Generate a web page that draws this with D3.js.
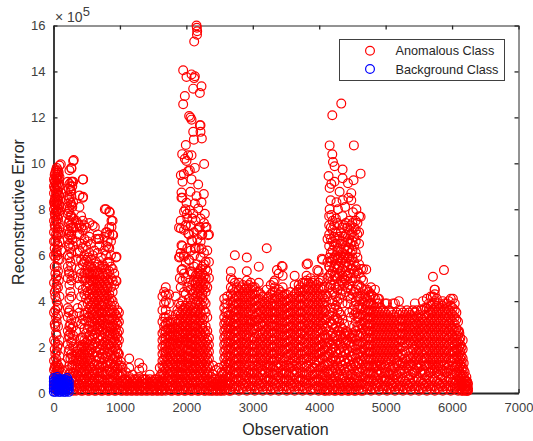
<!DOCTYPE html>
<html>
  <head>
    <title>Reconstructive Error</title>
    <script src="https://d3js.org/d3.v7.min.js"></script>
    <style>
      html, body { margin: 0; padding: 0; background: #fff; }
      text { font-family: "Liberation Sans", Arial, sans-serif; fill: #262626; }
    </style>
  </head>
  <body>
    <div id="chart"></div>

    <script>
      // values, each row is [observation, [errors in units of 1e5]]
      const earlyBurst = [
        [8,[.2,.6,1,1.4,2.3,3.5,4.8,6,6.6,7,7.5,8,8.3,8.7,9,9.3]],
        [18,[.4,1.1,1.9,3,4.4,5.5,6.3,7.3,7.8,8.2,8.4,8.9,9.2,9.5]],
        [28,[.3,.8,1.2,1.7,2.2,2.9,3.6,4.2,5.2,5.9,6.6,7.2,7.7,8.1,8.5,8.9,9.2,9.6]],
        [38,[.2,.7,1.5,2.6,3.3,4.5,5,6.1,6.9,7.5,7.9,8.3,8.7,9.1,9.4,9.7]],
        [48,[.1,.5,1,1.3,1.8,2.5,3.1,4,4.7,5.5,6.2,6.8,7.4,7.9,8.3,8.6,9,9.4,9.8]],
        [58,[.3,.8,1.1,2,3.7,5.1,6,6.5,7.1,7.7,8.2,8.5,8.8,9.3,9.6]],
        [68,[.4,.9,1.2,2.1,2.9,3.4,3.8,4.6,5.3,5.8,6.4,7,7.6,8,8.4,8.8,9.1,9.5,9.7]],
        [78,[.6,1,4.9,6.9,7.4,7.9,8.2,8.6,9,9.3,9.6]],
        [90,[.2,.7,1.1,1.6,2.3,4.2,5.8,6.6,7.2,7.8,8.2,8.6,9,9.4,9.9]],
        [115,[.5,.9,1.3,6.2,7,8.1,8.7]],
        [215,[.5,1,1.5,2.1,2.7,3.3,3.7,5,5.5,6,6.7,7.1,7.8,8.1,8.6,9.2]],
        [228,[.2,.7,1.8,2.5,3.5,5.3,6.4,6.9,7.4,7.9,8.4,8.9]],
        [240,[.3,.8,1.2,1.9,2.4,2.9,3.6,4.1,4.7,5.2,5.9,6.5,7,7.5,8,8.5,9.1,9.7]],
        [254,[.4,.9,1.5,2.6,3,4.4,5.7,6.3,6.8,7.3,7.7,8.3,8.8,9]],
        [268,[.2,.6,1.1,1.7,2.2,2.8,3.2,4.2,4.9,5.5,6.1,6.9,7.2,7.7,8.2,8.8,9.2,9.8]],
        [283,[.3,.7,1.2,1.6,2.3,5.1,6.7,7.4,8.1,9]],
        [296,[.1,.5,.9,1.4,2,2.5,2.9,3.4,6.4,7.2,7.6,8.3,9.2,10.1]]
      ];
      const secondBurst = [
        [340,[.1,.3,.6,.9,1.2,1.5,1.8,2.7,3.1,5.8,6.6,7.2,7.5]],
        [365,[.2,.5,.8,1.1,1.4,1.7,2,3.7,5,6.1,6.9,7.4]],
        [390,[.2,.4,.7,1,1.3,1.6,1.9,2.3,3.5,4.7,5.4,6.2,6.9,7.3,8.1,8.6]],
        [415,[.1,.3,.6,.9,1.1,1.4,1.7,2,2.4,3,4.2,5.2,5.8,6.5,7.2,7.7]],
        [440,[.1,.4,.6,.9,1.2,1.5,1.8,2.1,2.4,3.2,3.8,4.5,5,5.6,6.3,7.1,7.5,8.5,9.3]],
        [465,[.3,.6,1,1.3,1.7,2,2.3,2.8,3.4,4.3,4.9,5.2,5.7,6,6.7,7.3]],
        [490,[.2,.5,.8,1.1,1.3,1.6,1.9,2.2,2.6,3.1,3.5,4.1,4.6,5,5.4,5.8,6.4,7.2]],
        [515,[.1,.4,.7,1,1.4,1.7,2,2.3,2.8,3.3,3.9,4.4,4.8,5.2,5.5,5.9,6.6]],
        [540,[.1,.3,.6,.9,1.2,1.5,1.8,2.1,2.5,2.9,3.3,3.7,4,4.3,4.7,5,5.3,5.6,6.1,6.8,7.4]],
        [565,[.2,.4,.7,1.1,1.4,1.9,2.3,2.7,3.1,3.5,3.8,4.1,4.5,4.9,5.2,5.5,5.8,6.5]],
        [590,[.2,.5,.8,1,1.3,1.7,2,2.4,2.7,3.1,3.4,3.6,3.9,4.2,4.5,4.8,5.1,5.4,6,7.3]],
        [615,[.1,.3,.6,.9,1.2,1.6,2.1,2.5,2.9,3.3,3.7,4,4.3,4.6,4.9,5.2,5.5,6.2]],
        [640,[.1,.4,.7,1,1.4,1.8,2.2,2.6,2.9,3.2,3.5,3.8,4.1,4.4,4.7,5,5.3,5.7,6.7]],
        [665,[.3,.6,.9,1.2,1.6,2,2.4,2.8,3.1,3.4,3.7,4,4.3,4.6,4.9,5.2,5.6,6.1,6.9]],
        [690,[.2,.5,.7,1.1,1.5,1.9,2.3,2.7,3,3.3,3.6,3.9,4.2,4.5,4.8,5.1,5.5,6.4,6.7]],
        [715,[.1,.3,.6,.9,1.2,1.7,2.1,2.5,2.9,3.2,3.5,3.8,4.1,4.4,4.7,5,5.4,5.9]],
        [740,[.1,.3,.6,.9,1.3,1.7,2.1,2.4,2.8,3.1,3.5,3.8,4,4.3,4.6,4.9,5.2,5.6]],
        [765,[.2,.5,.8,1.1,1.5,1.9,2.2,2.6,3,3.3,3.6,3.9,4.2,4.5,4.8,5.1,5.5,6.2,6.8]],
        [790,[.2,.4,.8,1.2,1.6,2,2.3,2.7,3,3.4,3.7,4.1,4.4,4.7,5,5.4,6,6.4,7,8]],
        [815,[.1,.3,.6,.9,1.3,1.7,2.1,2.5,2.9,3.2,3.5,3.9,4.2,4.6,4.9,5.2,5.7,6.6]],
        [840,[.1,.3,.6,1,1.4,1.8,2.1,2.5,2.8,3.2,3.6,4,4.3,4.8,5.3,5.7,6.3,6.9,7.2,7.9]],
        [865,[.2,.5,.9,1.3,1.6,2,2.3,2.6,2.9,3.2,3.5,3.8,4.1,4.6,5,5.5,6,6.6]],
        [890,[.2,.5,.8,1.1,1.5,1.8,2.2,2.4,2.7,3,3.3,3.6,4,4.4,4.9,5.4,6.9,7.5]],
        [915,[.1,.3,.6,.9,1.2,1.6,2,2.3,2.6,2.9,3.2,3.5,3.8,4.7,5.2]],
        [940,[.1,.4,.7,1,1.3,1.6,1.9,2.2,2.5,2.8,3.1,3.4,4.9,5.9]],
        [962,[.2,.5,.8,1.1,1.4,1.8,2.1,2.4,2.6,3,3.3,3.6]],
        [985,[.2,.4,.8,1.2,1.7,2.3,2.7,3.1,3.5]]
      ];
      const lowBand = [
        [1015,[.1,.3,.5,.7,.9,1.2]],[1040,[.1,.3,.5,.8,1.1]],[1065,[.2,.4,.6]],[1090,[.1,.4,.6,.9]],
        [1115,[.1,.3,.5]],[1140,[.2,.4,.7,1.1,1.5]],[1165,[.1,.3,.6]],[1190,[.1,.3,.5,.8]],
        [1215,[.2,.4,.6]],[1240,[.1,.4,.6]],[1265,[.1,.3,.5]],[1290,[.2,.4,.7,1,1.3]],
        [1315,[.1,.3,.5]],[1340,[.1,.3,.6,1.1]],[1365,[.2,.4,.6]],[1390,[.1,.4,.6]],
        [1420,[.1,.3,.5]],[1450,[.2,.4,.6,.8]],[1475,[.1,.3,.5]],[1500,[.1,.3,.5]],
        [1525,[.2,.4,.6]],[1550,[.1,.4,.6]],[1575,[.1,.3,.5]],[1600,[.2,.4,.7,1.1]],[1620,[.1,.3,.5,.8]],
        [2375,[.1,.3,.5,.7]],[2400,[.1,.3,.5,.8,1.2]],[2422,[.2,.4,.6]],[2445,[.1,.4,.6,1]],
        [2468,[.1,.3,.5]],[2490,[.2,.4,.6,1.1]],[2510,[.1,.3,.5]],[2530,[.1,.3,.5,.9]],[2550,[.2,.4,.6,.8]],
        [6160,[.1,.3,.5,.8,1.1,1.5,1.9,2.3]],[6175,[.2,.4,.7,1,1.3]],[6190,[.1,.2,.4,.6,.9]],[6203,[.2,.3,.5]],[6215,[.1,.3,.5,.7]],[6228,[.1,.3,.5]],[6240,[.1,.2,.4]]
      ];
      const thirdBurst = [
        [1640,[.1,.3,.6,.9,1.2,1.4,1.7,2,2.3,2.6,3.1,3.6,4.2]],
        [1665,[.2,.5,.8,1.1,1.5,1.8,2.1,2.4,2.7,2.9,3.3,3.9,4.4]],
        [1690,[.1,.4,.7,1,1.3,1.6,1.8,2.1,2.4,2.7,3,3.3,3.6,4,4.3,4.6]],
        [1715,[.3,.6,.9,1.2,1.5,1.9,2.2,2.5,2.8,3.1]],
        [1740,[.2,.5,.8,1.1,1.4,1.7,2,2.2,2.5,2.8,3.1,3.4,3.9,4.3]],
        [1765,[.1,.3,.6,.9,1.3,1.6,1.9,2.1,2.4,2.7,3]],
        [1790,[.1,.3,.6,.9,1.2,1.5,1.8,2.1,2.3,2.6,2.9,3.2]],
        [1815,[.2,.5,.8,1.1,1.4,1.7,2,2.3,2.5,2.8]],
        [1840,[.2,.4,.7,1,1.3,1.6,1.9,2.2,2.5,2.8,3.1,3.4,4.2]],
        [1865,[.1,.3,.6,.9,1.2,1.5,1.8,2.1,2.4,2.7,3,3.6]],
        [1890,[.1,.4,.6,.9,1.2,1.5,1.8,2,2.3,2.6,2.9,3.2,3.5,3.9,5.9,7.2]],
        [1915,[.3,.5,.8,1.1,1.3,1.6,2.1,2.5,2.8,3.1,3.4,3.8,4.6,6.1,7.5]],
        [1940,[.2,.5,.8,1.1,1.4,1.7,1.9,2.2,2.4,2.7,3,3.3,3.6,4,4.9,5.4,6.4,8.5]],
        [1965,[.1,.4,.7,1,1.2,1.6,2,2.3,2.6,2.9,3.1,3.4,3.7,4.4,5.2,6,7.1,7.9]],
        [1990,[.1,.3,.6,.9,1.2,1.5,1.8,2.1,2.3,2.6,2.9,3.2,3.5,3.8,4.3,5,5.7,7.3]],
        [2015,[.2,.5,.8,1.1,1.3,1.6,1.9,2.2,2.4,2.7,3,3.3,3.6,3.9,4.6,6.3,7.6]],
        [2040,[.2,.4,.7,1,1.3,1.6,1.9,2.2,2.5,2.8,3.1,3.4,3.7,4.1,4.8,5.8,6.9]],
        [2065,[.1,.3,.6,.9,1.2,1.5,1.8,2.1,2.4,2.6,2.9,3.2,3.5,3.8,4.5,5.3,6.2,7.3]],
        [2090,[.1,.4,.7,1,1.2,1.5,1.8,2.1,2.4,2.7,3,3.3,3.6,3.9,4.3,4.7,5.2,6.6,7.6]],
        [2115,[.2,.5,.8,1.1,1.4,1.7,2,2.3,2.6,2.9,3.2,3.5,3.7,4.1,4.4,4.9,5.5,6,7]],
        [2140,[.2,.5,.8,1.1,1.4,1.7,2,2.3,2.6,2.9,3.2,3.5,3.9,4.2,4.5,4.8,5.1,6.3,7.5]],
        [2165,[.1,.4,.7,1,1.3,1.6,1.9,2.2,2.5,2.8,3,3.3,3.6,4,4.3,4.6,4.9,5.2,5.6,6.7,7.1]],
        [2190,[.1,.3,.6,.9,1.2,1.5,1.8,2.1,2.4,2.7,3.1,3.4,3.7,4,4.4,4.7,5,5.3,6.3,7.2]],
        [2215,[.2,.5,.8,1.1,1.4,1.7,2,2.3,2.6,2.9,3.2,3.5,3.9,4.2,4.5,4.8,5.1,5.4,5.9,6.6,7.6]],
        [2240,[.2,.4,.7,1,1.3,1.6,1.9,2.2,2.5,2.8,3,3.3,3.8,4.1,4.3,4.6,4.9,5.2,5.5,6.9]],
        [2265,[.1,.3,.6,.9,1.2,1.5,1.8,2.1,2.4,2.7,3.2,3.6,4,4.5,4.8,5.1,5.6,6.1,7.4]],
        [2290,[.1,.4,.7,1,1.3,1.6,1.9,2.2,2.6,2.9,3.5,3.9,4.4,4.7,5,5.4,5.7,7.2]],
        [2315,[.2,.5,.8,1.1,1.4,1.7,2,2.3,2.7,3.3,4.6,5.3,6.2]],
        [2340,[.1,.3,.6,.9,1.2,1.5,1.8,2.1,2.4,5,5.7,6.9]]
      ];
      const columnBurst = [
        [2570,[.1,.3,.6,.9,1.2,1.5,1.8,2.1,2.4,2.7,3,3.3,3.7,4.1]],
        [2590,[.2,.4,.7,1,1.3,1.6,1.9,2.2,2.5,2.8,3.1,3.5,3.9]],
        [2615,[.2,.5,.8,1.1,1.4,1.7,2,2.3,2.6,2.9,3.2,3.5,3.9,4.2]],
        [2642,[.1,.4,.7,1,1.3,1.6,1.9,2.2,2.5,2.8,3.1,3.4]]
      ];
      const plateauA = [
        [2670,[.1,.4,.7,1,1.3,1.6,1.9,2.2,2.5,2.8,3.1,3.4,3.7,4,4.3,4.6,5,5.3]],
        [2700,[.3,.6,.9,1.2,1.5,1.8,2.1,2.4,2.7,3,3.3,3.6,3.9,4.2,4.5,4.9]],
        [2730,[.2,.5,.8,1.1,1.4,1.7,2,2.3,2.6,2.9,3.2,3.5,3.8,4.1,4.4,4.8,6]],
        [2760,[.3,.6,.9,1.2,1.5,1.8,2.1,2.4,2.7,3,3.3,3.6,3.9,4.2,4.6]],
        [2790,[.1,.3,.6,.9,1.2,1.5,1.8,2.1,2.4,2.7,3,3.3,3.6,3.9,4.2,4.5,4.8]],
        [2820,[.2,.5,.7,1,1.3,1.6,1.9,2.2,2.5,2.8,3.1,3.4,3.7,4,4.3,4.6]],
        [2850,[.2,.4,.8,1.1,1.4,1.7,2,2.3,2.6,2.9,3.2,3.5,3.8,4.1,4.4,4.7]],
        [2880,[.3,.6,.9,1.2,1.5,1.8,2.1,2.4,2.7,3,3.3,3.6,3.9,4.2,4.5]],
        [2910,[.1,.4,.7,1,1.3,1.6,1.9,2.2,2.5,2.8,3.1,3.4,3.7,4,4.3,4.6,4.9,5.3,5.9]],
        [2940,[.3,.6,.9,1.2,1.5,1.8,2.1,2.4,2.6,2.9,3.2,3.5,3.8,4.1,4.4,4.7]],
        [2970,[.2,.5,.8,1,1.4,1.7,2,2.3,2.7,3,3.2,3.6,3.9,4.2,4.5,4.8]],
        [3000,[.3,.6,.9,1.2,1.5,1.8,2.1,2.4,2.8,3.1,3.4,3.7,4,4.3,4.6]],
        [3030,[.1,.3,.6,.9,1.2,1.5,1.8,2.1,2.4,2.8,3.1,3.3,3.7,4,4.3,4.6]],
        [3060,[.2,.5,.8,1,1.4,1.7,2,2.3,2.6,2.9,3.2,3.5,3.8,4.1,4.4]],
        [3090,[.2,.4,.7,1.1,1.3,1.6,1.9,2.2,2.5,2.9,3.2,3.5,3.8,4.1,4.4,4.8,5.5]],
        [3120,[.3,.6,.9,1.2,1.5,1.8,2.1,2.4,2.7,3,3.3,3.6,3.9,4.3]],
        [3150,[.1,.4,.8,1,1.4,1.7,2,2.3,2.6,2.9,3.1,3.4,3.7,4,4.2]],
        [3180,[.3,.6,.9,1.2,1.5,1.8,2.1,2.4,2.7,3,3.3,3.6,3.9]],
        [3210,[.2,.5,.7,1.1,1.3,1.6,1.9,2.2,2.5,2.8,3.2,3.5,3.8,4.1,4.5,6.3]],
        [3240,[.3,.6,.9,1.2,1.4,1.7,2,2.3,2.6,2.9,3.1,3.4,3.7,4,4.2]],
        [3270,[.1,.3,.6,.9,1.2,1.5,1.8,2.1,2.4,2.7,3,3.3,3.6,3.9,4.3,4.7]],
        [3300,[.2,.5,.8,1.1,1.4,1.7,2,2.3,2.6,2.9,3.2,3.5,3.8,4.1,4.4]],
        [3330,[.2,.4,.8,1,1.4,1.7,2,2.3,2.6,2.9,3.2,3.5,3.8,4.1,4.4,4.6,4.9]],
        [3360,[.3,.6,.9,1.2,1.5,1.8,2.1,2.4,2.7,3,3.3,3.6,3.9,4.2]],
        [3390,[.1,.4,.7,1.1,1.3,1.6,1.9,2.2,2.5,2.8,3.1,3.4,3.7,4,4.3,4.5,5.2]],
        [3420,[.3,.6,.9,1.2,1.5,1.7,2,2.3,2.6,2.9,3.2,3.5,3.8,4.1,4.4]],
        [3450,[.2,.5,.8,1,1.4,1.8,2.1,2.4,2.7,3,3.3,3.6,3.9,4.2,4.6,5.1,5.5]],
        [3480,[.3,.6,.9,1.2,1.5,1.9,2.2,2.5,2.8,3.1,3.4,3.7,4,4.3]],
        [3510,[.1,.3,.6,.9,1.2,1.6,1.9,2.2,2.5,2.8,3.1,3.4,3.7,4,4.3]],
        [3540,[.2,.5,.8,1.1,1.4,1.7,2,2.3,2.6,2.9,3.2,3.5,3.8,4.1]],
        [3570,[.2,.4,.7,1.1,1.3,1.7,2,2.3,2.6,2.9,3.2,3.5,3.8,4.1,4.4]],
        [3600,[.3,.6,.9,1.2,1.5,1.8,2.1,2.4,2.7,3,3.3,3.6,3.9,4.2]],
        [3630,[.1,.4,.8,1,1.4,1.6,1.9,2.2,2.5,2.8,3.1,3.4,3.7,4,4.3,4.7,5.1]],
        [3660,[.3,.6,.9,1.2,1.3,1.7,2,2.3,2.6,2.9,3.2,3.5,3.8,4.1,4.4]],
        [3690,[.2,.5,.7,1.1,1.5,1.8,2.1,2.4,2.7,3,3.3,3.6,3.9,4.2,4.5,4.7]],
        [3720,[.3,.6,.9,1.2,1.4,1.7,2,2.3,2.6,2.9,3.2,3.5,3.8,4.1,4.4,4.6]],
        [3750,[.1,.3,.6,.9,1.3,1.7,2,2.3,2.6,2.9,3.2,3.5,3.8,4.1,4.4,4.8]],
        [3780,[.2,.5,.8,1.1,1.5,1.8,2.2,2.5,2.7,3,3.3,3.6,3.9,4.2,4.5,4.8]],
        [3810,[.2,.4,.8,1.2,1.5,1.8,2.1,2.4,2.8,3.1,3.4,3.7,4,4.3,4.6,4.9,5.1,5.6]],
        [3840,[.3,.6,.9,1.3,1.6,1.9,2.2,2.5,2.7,3,3.3,3.6,3.9,4.2,4.5,4.8]],
        [3870,[.1,.4,.7,1,1.4,1.7,2,2.3,2.6,2.9,3.2,3.5,3.8,4.1,4.4,4.7,5]],
        [3900,[.2,.5,.8,1.1,1.5,1.8,2.1,2.4,2.7,3,3.3,3.6,3.9,4.2,4.5,4.8]],
        [3930,[.2,.5,.8,1.1,1.3,1.6,1.9,2.2,2.5,2.8,3.1,3.4,3.7,4,4.3,4.6,4.9]],
        [3960,[.3,.6,.9,1.2,1.4,1.7,2,2.3,2.6,2.9,3.2,3.5,3.8,4.1,4.4,4.7]],
        [3990,[.1,.3,.6,1,1.4,1.7,2,2.3,2.7,3,3.3,3.6,3.9,4.2,4.5,4.8,5.3]],
        [4020,[.2,.5,.8,1.1,1.5,1.8,2.1,2.4,2.8,3.1,3.4,3.7,4,4.3,4.6,4.9]],
        [4050,[.2,.4,.8,1.1,1.5,1.8,2.1,2.4,2.7,3,3.3,3.6,3.9,4.2,4.5,5,5.8]],
        [4075,[.1,.3,.6,.9,1.2,1.6,1.9,2.2,2.5,2.9,3.2,3.5,3.8,4.1,4.6]],
        [4100,[.1,.4,.7,1,1.3,1.6,2,2.4,2.8,3.2,3.6,4,4.3]]
      ];
      const fourthBurst = [
        [4125,[.2,.5,.9,1.2,1.6,2,2.4,2.9,3.3,4.2,5,5.7,6.7]],
        [4150,[.1,.4,.8,1.3,1.7,2.2,2.7,3.4,4.6,5.1,5.5,5.9,6.4,6.9,7.3,7.7]],
        [4175,[.3,.6,1,1.4,1.8,2.1,2.5,3.1,3.7,4.7,5.2,5.7,6.1,6.7,7.2]],
        [4200,[.2,.5,.9,1.2,1.5,1.9,2.3,2.6,3,3.5,4,4.4,4.9,5.3,5.8,6.2,6.6,7.1,7.5]],
        [4225,[.1,.4,.7,1.1,1.6,2,2.4,2.8,3.2,3.7,4.3,4.7,5.1,5.5,5.9,6.4,6.8,7.3]],
        [4250,[.1,.3,.7,1,1.4,1.8,2.1,2.5,2.9,3.3,3.8,4.2,4.6,5.1,5.6,6,6.5,7,7.6]],
        [4275,[.2,.5,.9,1.2,1.7,2.3,2.7,3.2,3.6,4,4.5,5,5.4,5.8,6.2,6.7,7.4]],
        [4300,[.2,.4,.8,1.1,1.5,1.9,2.2,2.7,3.1,3.5,4.1,4.7,5.2,5.5,5.9,6.3,6.8,7.3]],
        [4325,[.1,.3,.6,1,1.4,1.8,2.1,2.5,2.9,3.4,4.3,4.9,5.3,5.7,6,6.5,7]],
        [4350,[.1,.4,.7,1.2,1.6,2,2.4,2.8,3.2,3.9,4.5,4.8,5.1,5.4,5.8,6.1,6.6,7.2,7.7]],
        [4375,[.3,.6,1,1.4,1.8,2.3,2.6,3,4.7,5,5.5,5.9,6.3,6.8,7.3]],
        [4400,[.2,.5,.9,1.3,1.7,2.2,2.5,2.7,4.4,4.9,5.3,5.7,6,6.4,6.9,7.4]],
        [4425,[.1,.4,.8,1.1,1.5,1.9,2.3,2.6,3.9,4.6,5.1,5.5,5.9,6.2,6.6,7.2]],
        [4450,[.1,.3,.6,1,1.4,1.8,2.2,2.5,3.5,4.2,4.7,5.2,5.6,5.9,6.3,6.7,7.1,7.5]],
        [4475,[.2,.5,.8,1.2,1.6,2.1,2.4,3.3,4.1,4.5,5,5.4,5.8,6.1,6.5,6.9,7.3]],
        [4500,[.2,.4,.8,1.1,1.6,2,2.4,2.6,3.6,4.3,4.9,5.4,5.9,6.2,6.6,7,7.4]],
        [4525,[.1,.3,.6,1,1.3,1.7,2.1,2.5,2.9,3.4,3.8,4.4,5.2,5.7,6.4,6.8,7.2]],
        [4550,[.1,.4,.7,1.2,1.5,1.9,2.3,2.7,3.1,3.5,4,4.5,5,5.5,6.1,6.6,7.1,7.5]],
        [4575,[.3,.6,.9,1.3,1.7,2.1,2.5,2.9,3.3,3.7,4.2,4.7,5.3,5.9,6.9,7.4]],
        [4600,[.2,.5,.9,1.3,1.7,2.1,2.5,2.9,3.3,3.8,4.2,4.7,5.2,5.6,6.5,7,7.7]],
        [4630,[.1,.4,.7,1.1,1.4,1.8,2.2,2.6,3,3.4,3.7,4.1,4.6,5,5.4]]
      ];
      const plateauB = [
        [4660,[.1,.4,.7,1,1.3,1.6,1.9,2.2,2.5,2.8,3.1,3.4,3.7,4,4.3,4.9,5.4]],
        [4690,[.3,.6,.9,1.2,1.5,1.8,2.1,2.4,2.7,3,3.3,3.6,3.9,4.2,4.5]],
        [4720,[.2,.5,.8,1.1,1.4,1.7,2,2.3,2.6,2.9,3.2,3.5,3.8,4.1,4.5]],
        [4750,[.3,.6,.9,1.2,1.5,1.8,2.1,2.4,2.7,3,3.3,3.6,3.9,4.2,4.4]],
        [4780,[.1,.3,.6,.9,1.2,1.5,1.8,2.1,2.4,2.7,3,3.3,3.6,3.9,4.3,4.6]],
        [4810,[.2,.5,.8,1.1,1.4,1.7,2,2.3,2.6,2.9,3.2,3.5,3.8,4.2]],
        [4840,[.2,.4,.7,1.1,1.3,1.6,1.9,2.2,2.5,2.8,3.1,3.4,3.7,4.1,4.5]],
        [4870,[.3,.6,.9,1.2,1.5,1.8,2.1,2.4,2.7,3,3.3,3.6,3.9]],
        [4900,[.1,.4,.8,1,1.4,1.7,2,2.3,2.6,2.9,3.2,3.5,3.9,4.1]],
        [4930,[.3,.6,.9,1.2,1.3,1.6,1.9,2.2,2.5,2.8,3.1,3.4,3.7]],
        [4960,[.2,.5,.7,1.1,1.5,1.8,2.1,2.4,2.7,3,3.3,3.6]],
        [4990,[.3,.6,.9,1.2,1.4,1.7,2,2.3,2.6,2.9,3.2,3.5,3.9]],
        [5020,[.1,.3,.6,.9,1.3,1.6,1.9,2.2,2.5,2.8,3.1,3.4,3.9]],
        [5050,[.2,.5,.8,1.1,1.5,1.8,2.1,2.4,2.7,3,3.3,3.6]],
        [5080,[.2,.4,.8,1,1.4,1.7,2,2.3,2.6,2.9,3.2,3.5]],
        [5110,[.3,.6,.9,1.2,1.6,1.9,2.2,2.5,2.8,3.1,3.4,3.9]],
        [5140,[.1,.4,.7,1.1,1.5,1.8,2.1,2.4,2.7,3,3.3,3.9]],
        [5170,[.3,.6,.8,1.3,1.4,1.7,2,2.3,2.6,2.9,3.2,3.5]],
        [5200,[.2,.5,.9,1.2,1.6,1.9,2.2,2.5,2.8,3.1,3.4,4]],
        [5230,[.3,.7,1,1.3,1.7,2,2.3,2.6,2.9,3.2,3.6]],
        [5260,[.1,.3,.6,1,1.3,1.7,2,2.3,2.6,2.9,3.2,3.5]],
        [5290,[.2,.5,.9,1.2,1.5,1.8,2.2,2.5,2.8,3.1,3.4]],
        [5320,[.2,.4,.7,1.1,1.4,2.1,2.4,2.7,3,3.3,3.6]],
        [5350,[.3,.6,1,1.3,1.6,2.3,2.6,2.9,3.2,3.5]],
        [5380,[.1,.4,.8,1.2,1.5,1.8,2.2,2.5,2.8,3.1,3.4]],
        [5410,[.3,.6,.9,1.3,1.6,1.9,2.1,2.4,2.7,3,3.3,3.6]],
        [5440,[.2,.5,.9,1,1.4,1.7,2,2.3,2.6,2.9,3.2,3.5,3.9]],
        [5470,[.3,.7,1.1,1.2,1.5,1.8,2.1,2.4,2.7,3,3.3,3.6]],
        [5500,[.1,.3,.6,1.1,1.3,1.6,1.9,2.2,2.5,2.8,3.1,3.4]],
        [5530,[.2,.5,.9,1.2,1.5,1.8,2.1,2.4,2.7,3,3.3,3.6]],
        [5560,[.2,.4,.8,1,1.4,1.7,2,2.3,2.6,2.9,3.2,3.6,4]],
        [5590,[.3,.6,.9,1.2,1.5,1.9,2.2,2.5,2.8,3.1,3.4,3.7]],
        [5620,[.1,.4,.7,1.2,1.5,1.8,2.1,2.4,2.7,3,3.3,3.7,4.1]],
        [5650,[.3,.6,.9,1.3,1.6,1.9,2.2,2.5,2.8,3.1,3.4,3.6,3.9]],
        [5680,[.2,.5,.9,1.1,1.4,1.7,2,2.3,2.6,2.9,3.2,3.5,3.8,4.2]],
        [5710,[.3,.7,1,1.2,1.5,1.8,2.1,2.4,2.7,3,3.3,3.6,3.9,4.2]],
        [5740,[.1,.3,.6,1,1.3,1.6,1.9,2.2,2.5,2.8,3.1,3.4,3.7,4,4.3,4.5]],
        [5770,[.2,.5,.9,1.1,1.4,1.7,2,2.3,2.6,2.9,3.2,3.5,3.8,4.1]],
        [5800,[.2,.4,.8,1.2,1.5,1.8,2.1,2.4,2.7,3,3.3,3.6,3.9]],
        [5830,[.3,.6,1,1.3,1.6,1.9,2.2,2.5,2.8,3.1,3.4,3.7]],
        [5860,[.1,.4,.7,1,1.4,1.7,2,2.3,2.6,2.9,3.2,3.5,3.8,4]],
        [5890,[.3,.6,.9,1.2,1.5,1.8,2.1,2.4,2.7,3,3.3,3.6,3.9]],
        [5920,[.2,.5,.9,1.1,1.3,1.6,1.9,2.2,2.5,2.8,3.1,3.4,3.7,3.9]],
        [5950,[.3,.7,1,1.2,1.5,1.8,2.1,2.4,2.7,3,3.3,3.6,4]],
        [5980,[.1,.3,.6,1,1.4,1.7,2,2.3,2.6,2.9,3.2,3.5,3.8,4.1]],
        [6010,[.2,.5,.8,1.2,1.5,1.8,2.2,2.5,2.8,3.1,3.4,3.7]],
        [6040,[.2,.4,.8,1.1,1.5,1.8,2.1,2.4,2.7,3,3.3,3.6,3.9]],
        [6065,[.3,.6,.9,1.2,1.6,1.9,2.2,2.5,2.8,3.2,3.5]],
        [6090,[.1,.4,.7,1,1.3,1.6,1.9,2.2,2.5,2.7,3.1]],
        [6110,[.3,.6,.9,1.1,1.4,1.7,2,2.3,2.6]],
        [6125,[.2,.5,.8,1.2,1.5,1.8,2.1,2.4]],
        [6143,[.1,.4,.7,1,1.3,1.6,2]]
      ];
      const highPoints = [
        [110,9.96],[305,10.14],[270,9.77],[446,9.3],[285,9.2],[270,8.54],[446,8.54],[772,8],[848,7.86],[873,7.5],
        [622,7.23],[808,7],[898,6.87],[873,7.23],[672,6.72],[948,5.93],[823,6.36],[948,4.87],[973,1.72],[1013,1.36],
        [2153,16],[2158,15.9],[2163,15.75],[2160,15.6],[2118,15.3],[1952,14.05],[2002,13.76],[2078,13.87],[2128,13.79],[2118,13.71],
        [2228,13.35],[2203,13.06],[2103,13.25],[1977,12.93],[1952,12.57],[2042,12.06],[2062,11.99],[2078,11.9],[2203,11.66],[2213,11.66],
        [2103,11.37],[2213,11.37],[2113,11.03],[2233,11.08],[1992,10.8],[1937,10.4],[2027,10.35],[2078,10.35],[1977,10.2],[2002,10.1],
        [2268,9.97],[2128,9.8],[2052,9.7],[2027,9.66],[1917,9.48],[1962,9.53],[2078,9.3],[1942,9.2],[2178,9.08],[1927,8.73],
        [2062,8.76],[2263,8.66],[2153,8.57],[1927,8.5],[2002,8.28],[2128,8.25],[2228,8.3],[1987,8],[2052,7.96],[2178,8.03],
        [2278,7.8],[2103,7.8],[2010,7.8],[1917,7.16],[1992,7.3],[2027,6.94],[2078,6.65],[1927,6.43],[1902,5.93],[1962,5.93],
        [2042,5.78],[1927,5.35],[2078,5.27],[1902,5],[2203,7.23],[2303,7.23],[2228,6.87],[2328,6.87],[2128,6.29],[2228,6.29],
        [4157,10.78],[4522,10.78],[4332,12.6],[4197,12.09],[4197,10.39],[4207,10.06],[4232,9.87],[4352,9.73],[4623,9.55],[4141,9.45],
        [4352,9.35],[4517,9.26],[4182,9.1],[4433,9.13],[4157,8.93],[4307,8.76],[4483,8.7],[4172,8.39],[4483,8.39],[4352,8.39],
        [4157,8],[4623,7.67],[4508,7.87],[4282,8],[4182,7.75],[4260,8.3],[4390,8.1],[4230,9.2],[4440,8.5],[4560,8],
        [5712,5.06],[5878,5.35],[5737,4.5],[6013,4.1],[4884,4.1],[4708,5.38],[6104,2.7],[3438,5.53],[3363,5.35],[3830,5.64],
        [4040,5.85],[4156,5.49],[3970,5.35],[3313,4.81]
      ];
      const backgroundColumns = [
        [5,[.05,.2,.35,.5,.65]],[30,[.05,.15,.3,.45,.6]],[55,[.1,.25,.4,.55,.7]],[80,[.05,.2,.35,.5,.6]],
        [105,[.05,.15,.3,.45,.6]],[130,[.1,.25,.4,.5]],[155,[.05,.2,.35,.5,.6]],[180,[.05,.15,.3,.45,.55]],
        [205,[.1,.25,.4,.55,.65]],[230,[.05,.2,.35,.5]]
      ];

      const xTicks = [0, 1000, 2000, 3000, 4000, 5000, 6000, 7000];
      const yTicks = [0, 2, 4, 6, 8, 10, 12, 14, 16];
      const legendLabels = ["Anomalous Class", "Background Class"];
      const legendColors = ["#ff0000", "#0000ff"];

      const toPoints = rows => rows.flatMap(([obs, values]) => values.map(v => [obs, v]));
      const anomalous = [earlyBurst, secondBurst, lowBand, thirdBurst, columnBurst, plateauA, fourthBurst, plateauB]
        .flatMap(toPoints)
        .concat(highPoints);
      const background = toPoints(backgroundColumns);

      const width = 533, height = 441;
      const plotLeft = 53.5, plotRight = 518.5, plotTop = 25.5, plotBottom = 393;
      const ringRadius = 4.4, ringWidth = 1.2;

      const x = d3.scaleLinear().domain([0, 7000]).range([plotLeft, plotRight]);
      const y = d3.scaleLinear().domain([0, 16]).range([plotBottom, plotTop]);

      const svg = d3.select("#chart").append("svg")
        .attr("width", width)
        .attr("height", height)
        .style("display", "block");

      // axes, ticks point inward like matlab's box on
      function styleAxis(g, weight) {
        g.select(".domain").attr("stroke", "#262626").attr("stroke-width", weight);
        g.selectAll(".tick line").attr("stroke", "#262626").attr("stroke-width", 1.3);
        g.selectAll(".tick text").style("font-size", "13px").style("fill", "#404040")
          .style("font-family", '"Liberation Sans", Arial, sans-serif');
      }

      svg.append("g").attr("transform", `translate(0,${plotBottom})`)
        .call(d3.axisBottom(x).tickValues(xTicks).tickFormat(d3.format("d")).tickSizeInner(-4).tickSizeOuter(0).tickPadding(10))
        .call(styleAxis, 1.8);
      svg.append("g").attr("transform", `translate(${plotLeft},0)`)
        .call(d3.axisLeft(y).tickValues(yTicks).tickSizeInner(-4).tickSizeOuter(0).tickPadding(8))
        .call(styleAxis, 1.8);
      svg.append("g").attr("transform", `translate(0,${plotTop})`)
        .call(d3.axisTop(x).tickValues(xTicks).tickSizeInner(-4).tickSizeOuter(0).tickFormat(""))
        .call(styleAxis, 1);
      svg.append("g").attr("transform", `translate(${plotRight},0)`)
        .call(d3.axisRight(y).tickValues(yTicks).tickSizeInner(-4).tickSizeOuter(0).tickFormat(""))
        .call(styleAxis, 1);

      // points
      svg.append("g").selectAll("circle")
        .data(anomalous)
        .enter()
        .append("circle")
        .attr("cx", d => x(d[0]))
        .attr("cy", d => y(d[1]))
        .attr("r", ringRadius)
        .attr("fill", "none")
        .attr("stroke", legendColors[0])
        .attr("stroke-width", ringWidth);

      svg.append("g").selectAll("circle")
        .data(background)
        .enter()
        .append("circle")
        .attr("cx", d => x(d[0]))
        .attr("cy", d => y(d[1]))
        .attr("r", ringRadius)
        .attr("fill", "none")
        .attr("stroke", legendColors[1])
        .attr("stroke-width", ringWidth);

      // labels
      svg.append("text")
        .attr("x", 285.5)
        .attr("y", 435)
        .attr("text-anchor", "middle")
        .style("font-size", "16px")
        .text("Observation");

      svg.append("text")
        .attr("transform", "translate(24,212) rotate(-90)")
        .attr("text-anchor", "middle")
        .style("font-size", "16px")
        .text("Reconstructive Error");

      const exponent = svg.append("text").attr("x", 55).attr("y", 22).style("font-size", "14px").style("fill", "#404040");
      exponent.append("tspan").text("× 10");
      exponent.append("tspan").attr("dy", -6).style("font-size", "13px").text("5");

      // legend
      const legend = svg.append("g");
      legend.append("rect")
        .attr("x", 339.5)
        .attr("y", 39.5)
        .attr("width", 165)
        .attr("height", 41)
        .attr("fill", "#fff")
        .attr("stroke", "#404040");

      legendLabels.forEach((label, i) => {
        const rowY = 50.7 + i * 18.3;
        legend.append("circle")
          .attr("cx", 370)
          .attr("cy", rowY)
          .attr("r", ringRadius)
          .attr("fill", "none")
          .attr("stroke", legendColors[i])
          .attr("stroke-width", ringWidth);
        legend.append("text")
          .attr("x", 395.5)
          .attr("y", rowY + 4.5)
          .style("font-size", "12.7px")
          .text(label);
      });
    </script>
  </body>
</html>
